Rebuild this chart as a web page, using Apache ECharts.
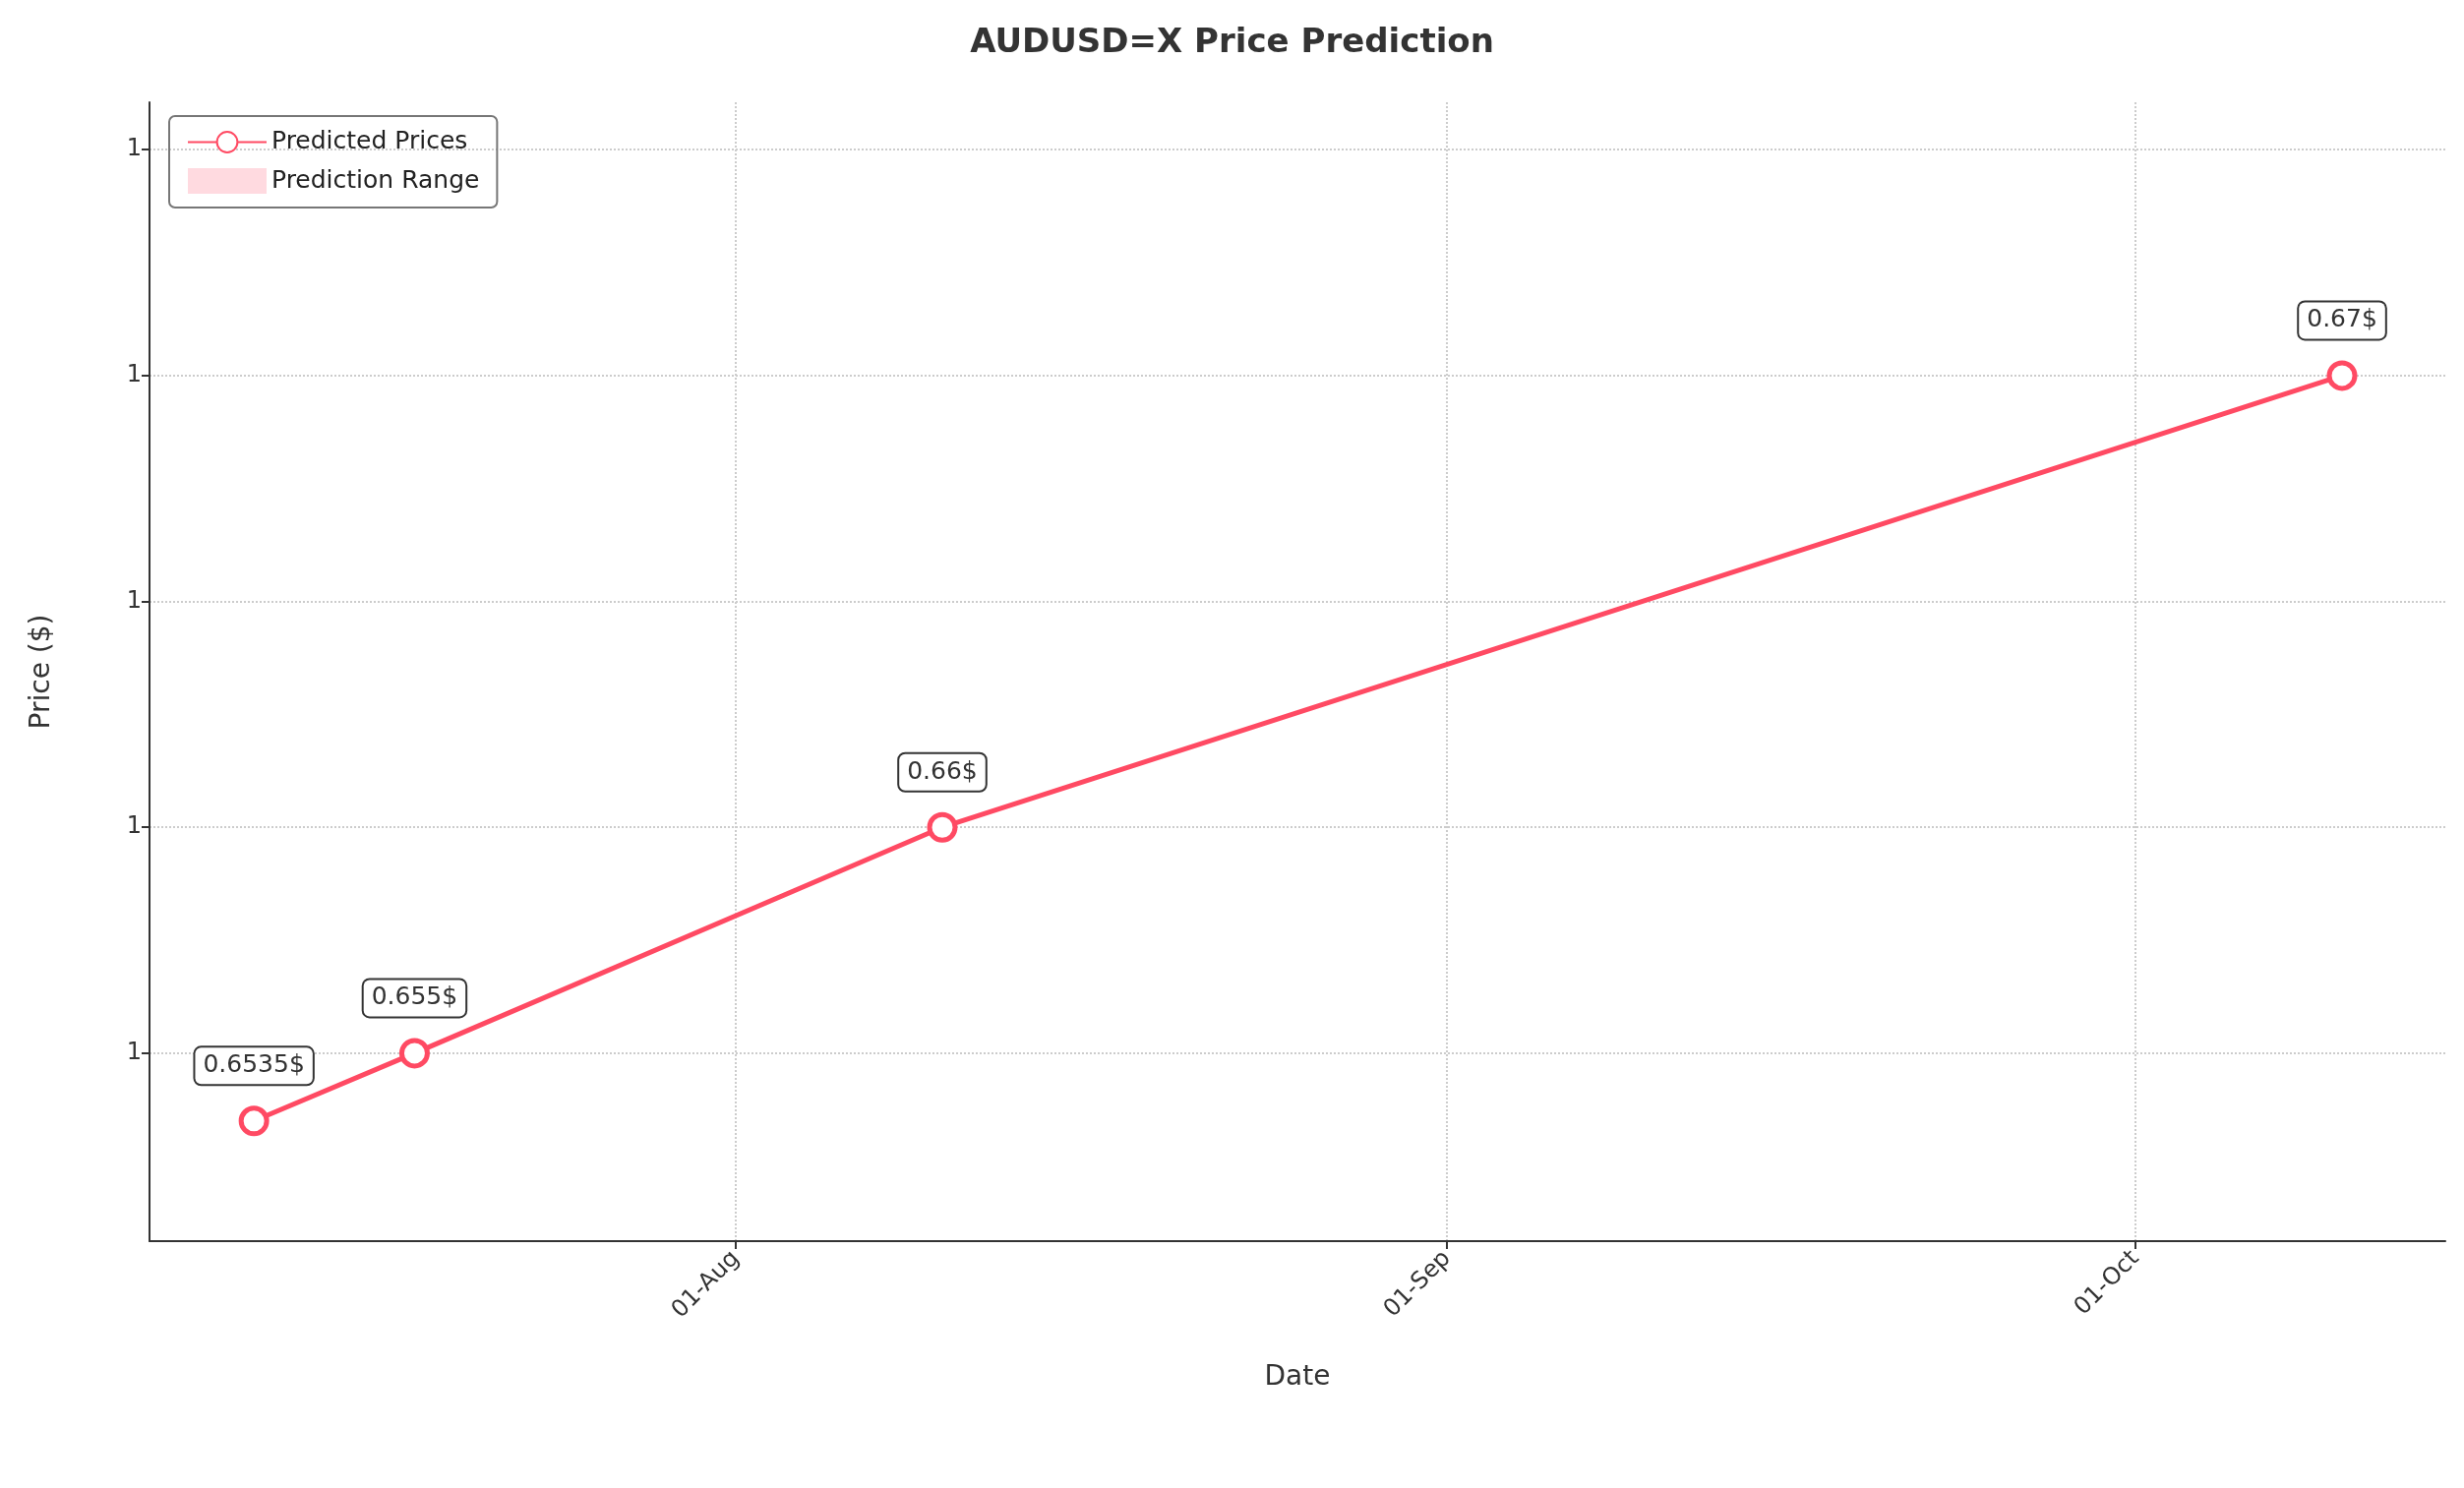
<!DOCTYPE html>
<html><head><meta charset="utf-8">
<script src="https://cdn.jsdelivr.net/npm/echarts@6/dist/echarts.min.js"></script>
<style>html,body{margin:0;padding:0;background:#fff}#c{width:2505px;height:1513px}</style>
</head><body><div id="c"></div>
<script>
const dates = ['2024-07-11','2024-07-18','2024-08-10','2024-10-10'];
const predicted = [0.6535, 0.655, 0.66, 0.67];
const labels = ['0.6535$','0.655$','0.66$','0.67$'];
const lower = [0.65203, 0.65304, 0.655, 0.66];
const upper = [0.6556, 0.65706, 0.665, 0.675];
const xTicks = ['2024-08-01','2024-09-01','2024-10-01'];
const yTicks = [0.655, 0.66, 0.665, 0.67, 0.675];

const t = d => new Date(d + 'T00:00:00Z').getTime();
const red = '#ff4a63';
const mon = ['Jan','Feb','Mar','Apr','May','Jun','Jul','Aug','Sep','Oct','Nov','Dec'];
const chart = echarts.init(document.getElementById('c'));
chart.setOption({
  animation:false,
  title:{text:'AUDUSD=X Price Prediction',left:'center',top:22,textStyle:{fontSize:34,fontWeight:'bold',color:'#333',fontFamily:'DejaVu Sans'}},
  legend:{left:172,top:118,orient:'vertical',itemGap:14,itemWidth:80,itemHeight:26,
    borderColor:'#777',borderWidth:2,borderRadius:6,padding:[14,18],
    textStyle:{fontSize:25,color:'#222',fontFamily:'DejaVu Sans'},
    data:[{name:'Predicted Prices'},{name:'Prediction Range',icon:'rect'}]},
  grid:{left:152,right:19,top:104,bottom:251},
  xAxis:{type:'value',min:t('2024-07-06')+0.45*864e5,max:t('2024-10-14')+0.5*864e5,
    name:'Date',nameLocation:'middle',nameGap:125,nameTextStyle:{fontSize:28,color:'#333',fontFamily:'DejaVu Sans'},
    axisLine:{lineStyle:{color:'#333',width:2}},
    axisTick:{show:true,customValues:xTicks.map(t),length:8,lineStyle:{color:'#333',width:2}},
    axisLabel:{customValues:xTicks.map(t),rotate:45,fontSize:24,color:'#333',margin:14,fontFamily:'DejaVu Sans',
      formatter:v=>{const d=new Date(v);return String(d.getUTCDate()).padStart(2,'0')+'-'+mon[d.getUTCMonth()];}},
    splitLine:{show:true,lineStyle:{type:'dotted',color:'#ccc',width:2}}},
  yAxis:{type:'value',min:0.65084,max:0.67605,
    name:'Price ($)',nameLocation:'middle',nameGap:95,nameTextStyle:{fontSize:28,color:'#333',fontFamily:'DejaVu Sans'},
    axisLine:{show:true,lineStyle:{color:'#333',width:2}},
    axisTick:{show:true,customValues:yTicks,length:8,lineStyle:{color:'#333',width:2}},
    axisLabel:{customValues:yTicks,fontSize:24,color:'#333',fontFamily:'DejaVu Sans',formatter:v=>v.toFixed(0)},
    splitLine:{show:true,lineStyle:{type:'dotted',color:'#ccc',width:2}}},
  series:[
    {name:'lowerBase',type:'line',stack:'band',symbol:'none',lineStyle:{opacity:0},
      data:dates.map((d,i)=>[t(d),lower[i]]),silent:true},
    {name:'Prediction Range',type:'line',stack:'band',symbol:'none',
      lineStyle:{color:'rgba(255,170,185,0.6)',width:2},itemStyle:{color:'rgba(255,182,193,0.5)'},
      areaStyle:{color:'rgba(255,182,193,0.42)'},
      data:dates.map((d,i)=>[t(d),upper[i]-lower[i]])},
    {name:'Predicted Prices',type:'line',symbol:'circle',symbolSize:26,
      lineStyle:{color:red,width:5},itemStyle:{color:'#fff',borderColor:red,borderWidth:5},
      data:dates.map((d,i)=>[t(d),predicted[i]]),
      label:{show:true,position:'top',distance:22,formatter:p=>labels[p.dataIndex],fontSize:25,color:'#333',
        fontFamily:'DejaVu Sans',backgroundColor:'#fff',borderColor:'#333',borderWidth:2,borderRadius:6,padding:[6,8]}}
  ]
});
</script></body></html>
